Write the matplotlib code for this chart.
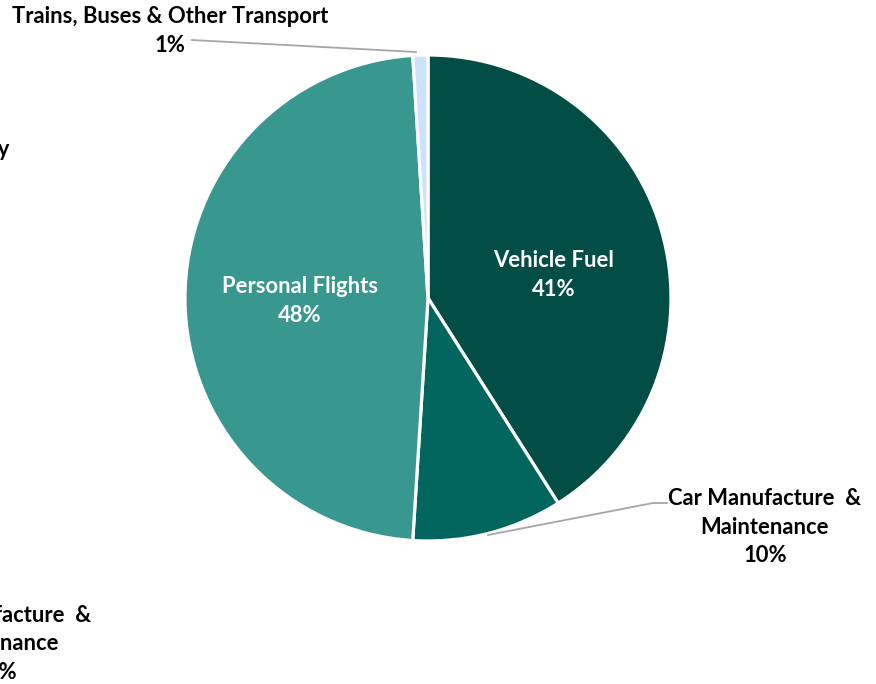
import matplotlib.pyplot as plt

plt.rcParams['font.family'] = ['Lato', 'DejaVu Sans']

categories = ['Vehicle Fuel', 'Car Manufacture  &\nMaintenance', 'Personal Flights',
              'Trains, Buses & Other Transport']
shares = [41, 10, 48, 1]
colors = ['#024e46', '#02665e', '#38978f', '#cce2f8']

W, H = 876, 684
fig = plt.figure(figsize=(W / 100, H / 100), dpi=100)
ax = fig.add_axes([0, 0, 1, 1])

def py(y):
    # pixel row -> data y
    return H - y

cx, cy, r = 428, py(298), 243
ax.pie(shares, colors=colors, startangle=90, counterclock=False,
       center=(cx, cy), radius=r, frame=True,
       wedgeprops=dict(edgecolor='white', linewidth=2.3))
ax.set_xlim(0, W)
ax.set_ylim(0, H)
ax.axis('off')

fs = 15.8
ls = 1.45
lbl = lambda c, s: f"{c}\n{s}%"
# labels inside the big slices
ax.text(554, py(275), lbl(categories[0], shares[0]), color='white', fontsize=fs,
        fontweight='bold', ha='center', va='center', linespacing=ls)
ax.text(300, py(301), lbl(categories[2], shares[2]), color='white', fontsize=fs,
        fontweight='bold', ha='center', va='center', linespacing=ls)

# outside labels with leader lines
ax.text(170, py(31), lbl(categories[3], shares[3]), color='black', fontsize=fs,
        fontweight='bold', ha='center', va='center', linespacing=ls)
ax.plot([192, 416], [py(40), py(52)], color='#a6a6a6', lw=1.3)

ax.text(765, py(527), lbl(categories[1], shares[1]), color='black', fontsize=fs,
        fontweight='bold', ha='center', va='center', linespacing=ls)
ax.plot([488, 653, 667], [py(535), py(503), py(503)], color='#a6a6a6', lw=1.3)

# neighbouring chart's labels running off the left edge
ax.text(9, py(150), 'Home Energy', color='black', fontsize=fs,
        fontweight='bold', ha='right', va='center')
ax.text(-5, py(644), lbl(categories[1], shares[1]), color='black', fontsize=fs,
        fontweight='bold', ha='center', va='center', linespacing=ls)

fig.savefig('out.png', dpi=100)
